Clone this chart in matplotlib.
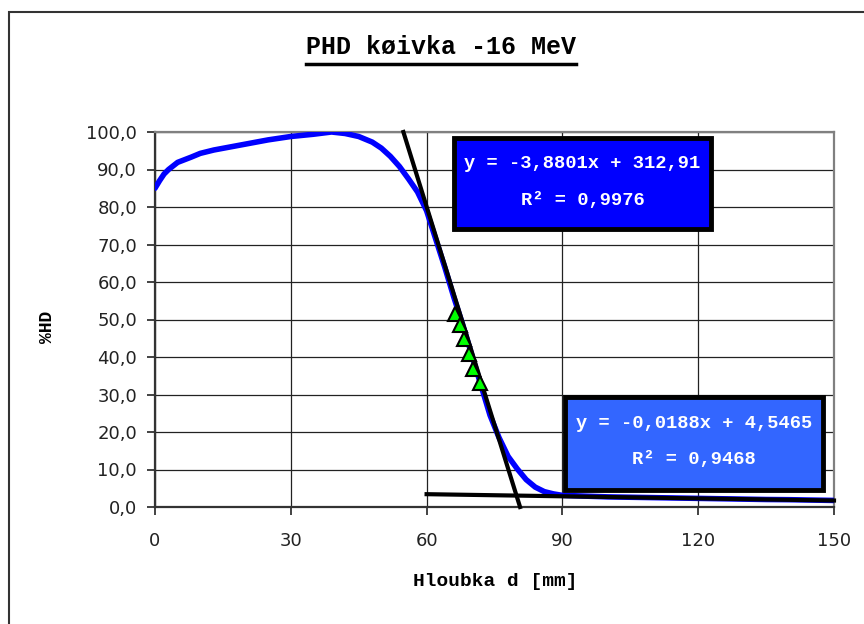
import numpy as np
import matplotlib.pyplot as plt
from matplotlib.patches import Rectangle
from matplotlib.lines import Line2D
from matplotlib.ticker import FuncFormatter

# hloubka [mm] a %HD
hloubka = [0, 1, 2, 3, 5, 8, 10, 13, 17, 21, 25, 30, 35, 39, 42, 45, 48, 50, 52, 54,
           56, 58, 60, 62, 64, 66, 68, 70, 72, 74, 76, 78, 80, 82, 84, 86, 88, 90,
           95, 100, 105, 110, 115, 120, 125, 130, 135, 140, 145, 150]
phd = [85.0, 87.0, 88.8, 90.0, 91.9, 93.3, 94.3, 95.2, 96.1, 97.0, 97.9, 98.8, 99.4,
       100.0, 99.6, 98.8, 97.3, 95.7, 93.5, 90.8, 87.5, 84.0, 79.0, 71.5, 64.0, 56.0,
       48.5, 40.5, 32.5, 24.5, 18.5, 13.5, 10.2, 7.3, 5.3, 4.1, 3.5, 3.1, 2.9, 2.7,
       2.6, 2.5, 2.4, 2.3, 2.2, 2.1, 2.0, 1.95, 1.85, 1.75]

# body pouzite pro linearni fit (trojuhelniky)
fit_x = [66.2, 67.3, 68.2, 69.3, 70.3, 71.7]
fit_y = [51.5, 48.5, 44.8, 40.7, 36.7, 33.0]

# koeficienty trendu
k1, q1 = -3.8801, 312.91
k2, q2 = -0.0188, 4.5465

mono = 'Liberation Mono'

fig = plt.figure(figsize=(8.64, 6.24), dpi=100)
ax = fig.add_axes([155/864, 117/624, 679/864, 375/624])

ax.plot(hloubka, phd, color='#0000FF', lw=4, zorder=3, solid_capstyle='round',
        solid_joinstyle='round')

# trend 1: od y=100 do y=0
x1 = np.array([(q1 - 100) / -k1, q1 / -k1])
ax.plot(x1, k1 * x1 + q1, color='black', lw=3.0, zorder=4, clip_on=False)
# trend 2: od 60 do 150
x2 = np.array([60, 150])
ax.plot(x2, k2 * x2 + q2, color='black', lw=3.0, zorder=4, clip_on=False)

ax.plot(fit_x, fit_y, linestyle='none', marker='^', ms=10, mfc='#00FF00',
        mec='black', mew=1.5, zorder=5)

ax.set_xlim(0, 150)
ax.set_ylim(0, 100)
ax.set_xticks(range(0, 151, 30))
ax.set_yticks(range(0, 101, 10))
ax.yaxis.set_major_formatter(FuncFormatter(lambda v, p: f"{v:.1f}".replace('.', ',')))
ax.tick_params(direction='out', length=6, width=1.2, labelsize=13, colors='#222222')
ax.tick_params(axis='y', pad=7)
ax.tick_params(axis='x', pad=12)
ax.grid(True, color='#222222', lw=0.9)
ax.set_axisbelow(True)
for s in ['left', 'bottom']:
    ax.spines[s].set_color('#333333')
    ax.spines[s].set_linewidth(1.6)
for s in ['top', 'right']:
    ax.spines[s].set_color('#808080')
    ax.spines[s].set_linewidth(1.6)

# ramecek grafu
fig.patches.append(Rectangle((8.5/864, -0.1), 1.2, 1.1 - 12/624, transform=fig.transFigure,
                             fill=False, ec='#333333', lw=1.5))

title = fig.text(441/864, 1 - 47/624, 'PHD køivka -16 MeV', family=mono,
                 fontweight='bold', fontsize=18, ha='center', va='center')
fig.text(495/864, 1 - 582/624, 'Hloubka d [mm]', family=mono, fontweight='bold',
         fontsize=14, ha='center', va='center')
fig.text(47/864, 1 - 327/624, '%HD', family=mono, fontweight='bold', fontsize=13,
         ha='center', va='center', rotation=90)

# popisky rovnic trendu
boxes = [((454, 138, 711, 229), '#0000FF', 'y = -3,8801x + 312,91', 'R² = 0,9976'),
         ((565, 397, 823, 490), '#3366FF', 'y = -0,0188x + 4,5465', 'R² = 0,9468')]
for (l, t, r, b), col, line1, line2 in boxes:
    fig.patches.append(Rectangle((l/864, 1 - b/624), (r - l)/864, (b - t)/624,
                                 transform=fig.transFigure, fc=col, ec='black',
                                 lw=3.5, zorder=6))
    cx = (l + r) / 2 / 864
    fig.text(cx, 1 - (t + 26)/624, line1, family=mono, fontweight='bold', fontsize=13.5,
             color='white', ha='center', va='center', zorder=7)
    fig.text(cx, 1 - (t + 62)/624, line2, family=mono, fontweight='bold', fontsize=13.5,
             color='white', ha='center', va='center', zorder=7)

# podtrzeni nadpisu
fig.canvas.draw()
bb = title.get_window_extent()
fig.lines.append(Line2D([bb.x0 / 864, bb.x1 / 864], [(bb.y0 - 5) / 624] * 2,
                        transform=fig.transFigure, color='black', lw=2.5))

fig.savefig('out.png', dpi=100)
